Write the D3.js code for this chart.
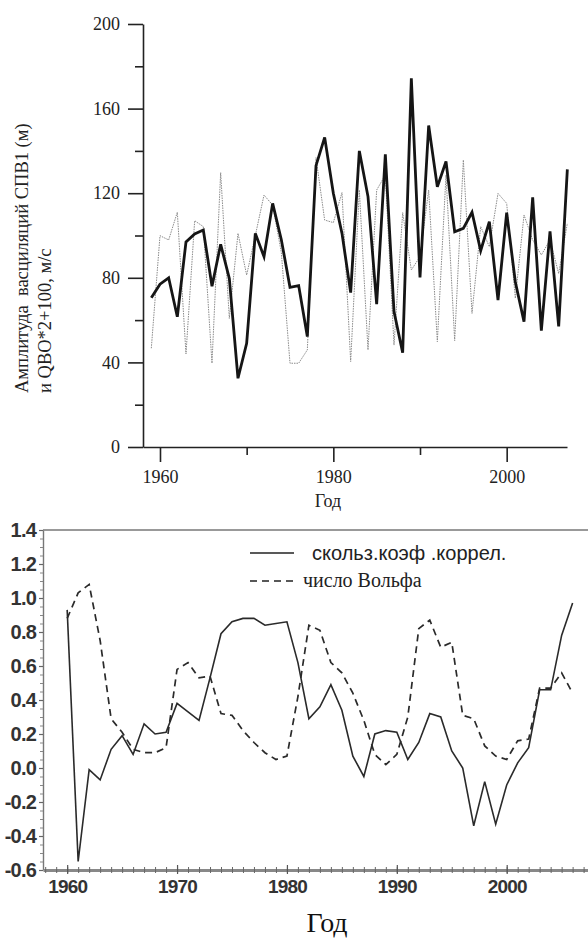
<!DOCTYPE html>
<html>
<head>
<meta charset="utf-8">
<script src="https://cdn.jsdelivr.net/npm/d3@7"></script>
<style>
  body { margin: 0; background: #fff; }
  svg { display: block; }
</style>
</head>
<body>
<svg id="chart" width="588" height="939"></svg>
<script>
// top panel: amplitude of SPV1 oscillations and QBO*2+100
const topYears = d3.range(1959, 2008);
const amplitude = [70.6, 77, 80, 61.6, 97, 100.7, 102.6, 76, 95.8, 79.7,
  32.5, 49, 101, 90, 115.2, 98, 75.5, 76.3, 52.2, 133,
  146.4, 120, 101, 73, 140, 118.4, 67.5, 138.4, 64, 44.6,
  174.3, 80.2, 152, 123, 135, 101.8, 103.4, 111, 92.8, 106.5,
  69.5, 110.8, 78, 59.3, 118, 55, 102, 57, 131.3];
const qbo = [46.7, 99.9, 97.9, 111, 44, 107, 104.2, 39.6, 129.7, 60.8,
  101, 81.3, 100, 119.1, 114.4, 92, 39.6, 39.6, 45.9, 136.8,
  107.3, 106.1, 120.3, 40.4, 121.5, 45.9, 121.5, 128.6, 48.2, 110.8,
  83.7, 90, 121.5, 49.8, 128.6, 50.3, 135.7, 63.2, 104.2, 94.7,
  119.9, 115.2, 70.3, 109.7, 97.9, 90.8, 97.9, 82, 105.8];
const topYMajor = [0, 40, 80, 120, 160, 200];
const topYMinor = [20, 60, 100, 140, 180];
const topXMajor = [1960, 1980, 2000];
const topXMinor = [1970, 1990];

// bottom panel: running correlation and Wolf number
const botYears = d3.range(1960, 2007);
const corr = [0.93, -0.55, -0.01, -0.07, 0.11, 0.19, 0.08, 0.26, 0.20, 0.21,
  0.38, 0.33, 0.28, 0.53, 0.79, 0.86, 0.88, 0.88, 0.84, 0.85,
  0.86, 0.62, 0.29, 0.36, 0.49, 0.34, 0.07, -0.05, 0.20, 0.22,
  0.21, 0.05, 0.15, 0.32, 0.30, 0.10, 0.00, -0.34, -0.08, -0.33,
  -0.10, 0.03, 0.12, 0.46, 0.46, 0.78, 0.97];
const wolf = [0.88, 1.03, 1.08, 0.75, 0.29, 0.21, 0.11, 0.09, 0.09, 0.12,
  0.58, 0.62, 0.53, 0.54, 0.32, 0.31, 0.22, 0.15, 0.09, 0.05,
  0.07, 0.42, 0.84, 0.81, 0.62, 0.56, 0.44, 0.28, 0.08, 0.02,
  0.08, 0.30, 0.82, 0.87, 0.71, 0.74, 0.31, 0.29, 0.13, 0.07,
  0.05, 0.16, 0.17, 0.47, 0.47, 0.56, 0.44];
const botYLabels = [-0.6, -0.4, -0.2, 0, 0.2, 0.4, 0.6, 0.8, 1.0, 1.2, 1.4];
const botXLabels = [1960, 1970, 1980, 1990, 2000];
const legendNames = ['скольз.коэф .коррел.', 'число Вольфа'];

const svg = d3.select('#chart');
const serif = '"Liberation Serif", "DejaVu Serif", serif';
const sans = '"Liberation Sans", Arial, sans-serif';

// ---------- top chart ----------
const tx = d3.scaleLinear().domain([1958.04, 2006.96]).range([143, 567]);
const ty = d3.scaleLinear().domain([0, 200]).range([447, 24]);
const topG = svg.append('g');

function styleTopAxis(g) {
  g.selectAll('path, line').attr('stroke', '#222').attr('stroke-width', 1.6);
  g.selectAll('text').attr('font-family', serif).attr('font-size', 18).attr('fill', '#222');
}

topG.append('g')
  .attr('transform', 'translate(143,0)')
  .call(d3.axisLeft(ty).tickValues(topYMajor).tickSize(15).tickSizeOuter(0).tickPadding(8))
  .call(styleTopAxis);
topG.append('g')
  .attr('transform', 'translate(143,0)')
  .call(d3.axisLeft(ty).tickValues(topYMinor).tickSize(8).tickSizeOuter(0).tickFormat(''))
  .call(styleTopAxis)
  .select('.domain').remove();

topG.append('g')
  .attr('transform', 'translate(0,447)')
  .call(d3.axisBottom(tx).tickValues(topXMajor).tickSize(15).tickSizeOuter(0).tickPadding(8).tickFormat(d3.format('d')))
  .call(styleTopAxis);
topG.append('g')
  .attr('transform', 'translate(0,447)')
  .call(d3.axisBottom(tx).tickValues(topXMinor).tickSize(8).tickSizeOuter(0).tickFormat(''))
  .call(styleTopAxis)
  .select('.domain').remove();

topG.append('text')
  .attr('x', 328).attr('y', 507)
  .attr('text-anchor', 'middle')
  .attr('font-family', serif).attr('font-size', 18).attr('fill', '#222')
  .text('Год');

const yTitle = topG.append('text')
  .attr('transform', 'translate(0,393) rotate(-90)')
  .attr('font-family', serif).attr('font-size', 18.5).attr('fill', '#222')
  .attr('text-anchor', 'start');
yTitle.append('tspan').attr('x', 0).attr('y', 28).attr('xml:space', 'preserve').text('Амплитуда  васциляций СПВ1 (м)');
yTitle.append('tspan').attr('x', 0).attr('y', 51).text('и QBO*2+100, м/с');

const topLine = (vals) => d3.line()
  .x((d, i) => tx(topYears[i]))
  .y((d) => ty(d))(vals);

topG.append('path')
  .attr('d', topLine(qbo))
  .attr('fill', 'none')
  .attr('stroke', '#8a8a8a')
  .attr('stroke-width', 1)
  .attr('stroke-dasharray', '1.5,1');

topG.append('path')
  .attr('d', topLine(amplitude))
  .attr('fill', 'none')
  .attr('stroke', '#151515')
  .attr('stroke-width', 2.8)
  .attr('stroke-linejoin', 'miter');

// ---------- bottom chart ----------
const bx = d3.scaleLinear().domain([1957.8, 2007.4]).range([43, 588]);
const by = d3.scaleLinear().domain([-0.6, 1.4]).range([870, 530]);
const botG = svg.append('g');

const defs = svg.append('defs');
defs.append('filter').attr('id', 'soft')
  .append('feGaussianBlur').attr('stdDeviation', 0.45);

// frame top line
botG.append('line')
  .attr('x1', bx.range()[0]).attr('x2', bx.range()[1])
  .attr('y1', by(1.4)).attr('y2', by(1.4))
  .attr('stroke', '#777').attr('stroke-width', 1.6);

const yMinor = d3.range(-0.6, 1.4001, 0.05).map((d) => +d.toFixed(2));
botG.append('g')
  .attr('transform', 'translate(43,0)')
  .call(d3.axisLeft(by).tickValues(yMinor).tickSize(3).tickSizeOuter(0).tickFormat(''))
  .call((g) => {
    g.select('.domain').attr('stroke', '#777').attr('stroke-width', 1.4);
    g.selectAll('line').attr('stroke', '#888').attr('stroke-width', 1);
  });
botG.append('g')
  .attr('transform', 'translate(43,0)')
  .call(d3.axisLeft(by).tickValues(botYLabels).tickSize(4).tickSizeOuter(0).tickPadding(3)
    .tickFormat((d) => d.toFixed(1)))
  .call((g) => {
    g.select('.domain').remove();
    g.selectAll('line').attr('stroke', '#666').attr('stroke-width', 1.2);
    g.selectAll('text')
      .attr('font-family', sans).attr('font-size', 20).attr('font-weight', 'bold')
      .attr('fill', '#333').attr('letter-spacing', -0.8);
  });

botG.append('g')
  .attr('transform', 'translate(0,870)')
  .call(d3.axisBottom(bx).tickValues(d3.range(1958, 2008)).tickSize(3).tickSizeOuter(0).tickFormat(''))
  .call((g) => {
    g.select('.domain').attr('stroke', '#888').attr('stroke-width', 3);
    g.selectAll('line').attr('stroke', '#666').attr('stroke-width', 1).attr('y1', -3);
  });
botG.append('g')
  .attr('transform', 'translate(0,870)')
  .call(d3.axisBottom(bx).tickValues(botXLabels).tickSize(4).tickSizeOuter(0).tickPadding(6)
    .tickFormat(d3.format('d')))
  .call((g) => {
    g.select('.domain').remove();
    g.selectAll('line').attr('stroke', '#555').attr('stroke-width', 1.2).attr('y1', -5);
    g.selectAll('text')
      .attr('font-family', sans).attr('font-size', 19).attr('font-weight', 'bold')
      .attr('fill', '#333').attr('letter-spacing', -0.8);
  });

botG.append('text')
  .attr('x', 327).attr('y', 932)
  .attr('text-anchor', 'middle')
  .attr('font-family', serif).attr('font-size', 28).attr('fill', '#111')
  .text('Год');

const botLine = (vals) => d3.line()
  .x((d, i) => bx(botYears[i]))
  .y((d) => by(d))(vals);

const lines = botG.append('g').attr('filter', 'url(#soft)');
lines.append('path')
  .attr('d', botLine(wolf))
  .attr('fill', 'none')
  .attr('stroke', '#2a2a2a')
  .attr('stroke-width', 1.7)
  .attr('stroke-dasharray', '7,5');
lines.append('path')
  .attr('d', botLine(corr))
  .attr('fill', 'none')
  .attr('stroke', '#2a2a2a')
  .attr('stroke-width', 1.6);

// legend
const legend = botG.append('g');
legend.append('line')
  .attr('x1', 250).attr('x2', 294).attr('y1', 553).attr('y2', 553)
  .attr('stroke', '#222').attr('stroke-width', 1.5);
legend.append('text')
  .attr('x', 312).attr('y', 560)
  .attr('font-family', sans).attr('font-size', 20).attr('fill', '#222')
  .text(legendNames[0]);
legend.append('line')
  .attr('x1', 250).attr('x2', 294).attr('y1', 581).attr('y2', 581)
  .attr('stroke', '#222').attr('stroke-width', 1.5)
  .attr('stroke-dasharray', '7,5');
legend.append('text')
  .attr('x', 303).attr('y', 587)
  .attr('font-family', serif).attr('font-size', 20).attr('fill', '#222')
  .text(legendNames[1]);
</script>
</body>
</html>
